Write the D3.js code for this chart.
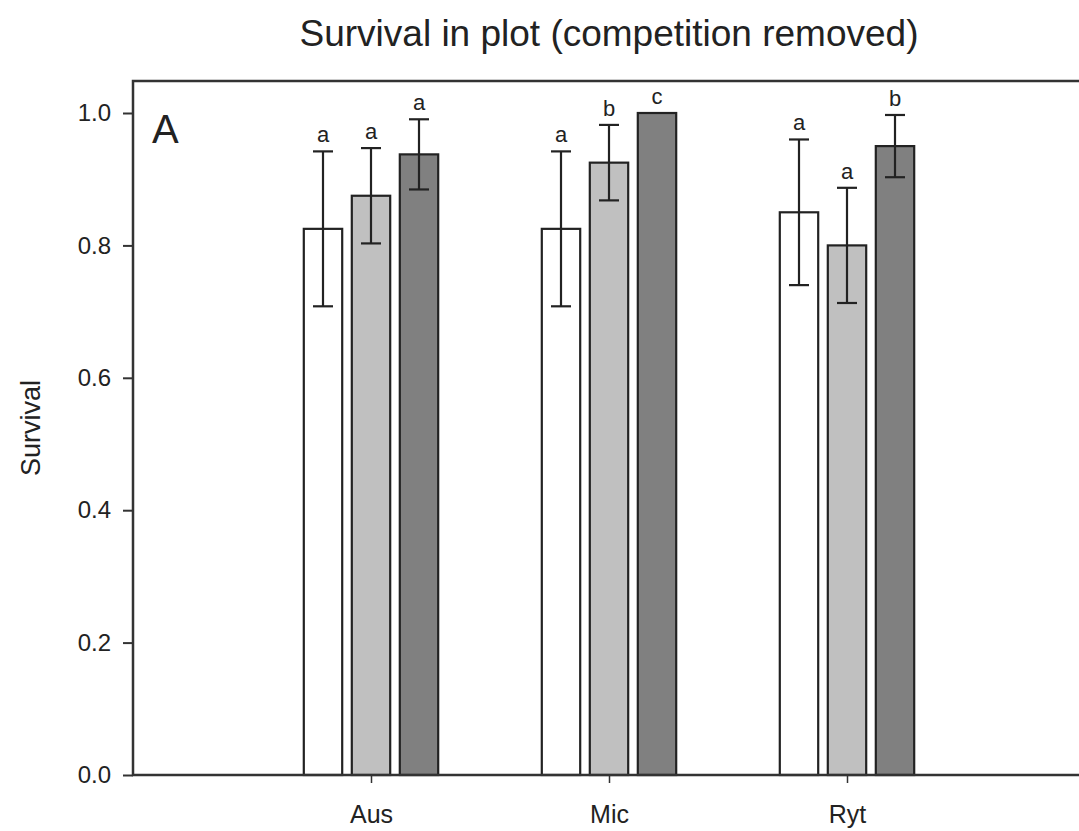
<!DOCTYPE html>
<html>
<head>
<meta charset="utf-8">
<script src="https://cdn.jsdelivr.net/npm/d3@7"></script>
<style>
  body { margin: 0; background: #fff; }
  text { font-family: "Liberation Sans", Arial, sans-serif; fill: #222; }
</style>
</head>
<body>
<div id="container"></div>
<script>
/* DATA */
const sites = ["Aus", "Mic", "Ryt"];
const treatments = ["t1", "t2", "t3"];
const means = [
  [0.825, 0.875, 0.9375],
  [0.825, 0.925, 1.0],
  [0.85, 0.80, 0.95]
];
const errors = [
  [0.117, 0.072, 0.053],
  [0.117, 0.057, 0],
  [0.11, 0.087, 0.047]
];
const letters = [
  ["a", "a", "a"],
  ["a", "b", "c"],
  ["a", "a", "b"]
];
const yTicks = [0, 0.2, 0.4, 0.6, 0.8, 1.0];
const fills = ["#ffffff", "#c0c0c0", "#808080"];

/* CONSTANTS */
const width = 1079;
const height = 831;
const margin = { top: 81, right: 0, bottom: 56, left: 133 };

const svg = d3.select("#container")
  .append("svg")
  .attr("width", width)
  .attr("height", height);

/* SCALES */
const xScale = d3.scalePoint()
  .domain(sites)
  .range([margin.left, 1085])
  .padding(1);

const subScale = d3.scaleBand()
  .domain(treatments)
  .range([-72, 72])
  .paddingInner(0.2)
  .paddingOuter(0.1);

const yScale = d3.scaleLinear()
  .domain([0, 1.0])
  .range([775, 113]);

// flatten rows for drawing
const rows = [];
sites.forEach((s, i) => {
  treatments.forEach((t, j) => {
    rows.push({ site: s, trt: t, j: j, mean: means[i][j], err: errors[i][j], letter: letters[i][j] });
  });
});

/* BARS */
svg.append("g")
  .selectAll("rect")
  .data(rows)
  .join("rect")
  .attr("x", d => xScale(d.site) + subScale(d.trt))
  .attr("y", d => yScale(d.mean))
  .attr("width", subScale.bandwidth())
  .attr("height", d => yScale(0) - yScale(d.mean))
  .attr("fill", d => fills[d.j])
  .attr("stroke", "#222")
  .attr("stroke-width", 2.2);

/* ERROR BARS */
const eb = svg.append("g")
  .selectAll("g")
  .data(rows.filter(d => d.err > 0))
  .join("g")
  .attr("stroke", "#222")
  .attr("stroke-width", 2.2);

const cx = d => xScale(d.site) + subScale(d.trt) + subScale.bandwidth() / 2;

eb.append("line")
  .attr("x1", cx).attr("x2", cx)
  .attr("y1", d => yScale(d.mean - d.err))
  .attr("y2", d => yScale(d.mean + d.err));
eb.append("line")
  .attr("x1", d => cx(d) - 10).attr("x2", d => cx(d) + 10)
  .attr("y1", d => yScale(d.mean + d.err))
  .attr("y2", d => yScale(d.mean + d.err));
eb.append("line")
  .attr("x1", d => cx(d) - 10).attr("x2", d => cx(d) + 10)
  .attr("y1", d => yScale(d.mean - d.err))
  .attr("y2", d => yScale(d.mean - d.err));

/* LETTERS */
svg.append("g")
  .selectAll("text")
  .data(rows)
  .join("text")
  .attr("x", cx)
  .attr("y", d => yScale(d.mean + d.err) - 9)
  .attr("text-anchor", "middle")
  .style("font-size", "22px")
  .text(d => d.letter);

/* AXES */
const yAxis = svg.append("g")
  .attr("transform", `translate(${margin.left},0)`)
  .call(d3.axisLeft(yScale).tickValues(yTicks).tickFormat(d3.format(".1f")).tickSize(10).tickPadding(12));
yAxis.select(".domain").remove();
yAxis.selectAll("line").attr("stroke", "#333").attr("stroke-width", 2);
yAxis.selectAll("text").style("font-size", "24px").attr("fill", "#222");

const xAxis = svg.append("g")
  .attr("transform", `translate(0,${yScale(0)})`)
  .call(d3.axisBottom(xScale).tickSize(8).tickPadding(22));
xAxis.select(".domain").remove();
xAxis.selectAll("line").attr("stroke", "#333").attr("stroke-width", 1.5);
xAxis.selectAll("text").style("font-size", "25px").attr("fill", "#222");

// frame: left, top, bottom
svg.append("path")
  .attr("d", `M${width},${margin.top}H${margin.left}V${yScale(0)}H${width}`)
  .attr("fill", "none")
  .attr("stroke", "#333")
  .attr("stroke-width", 2.5);

/* LABELS */
svg.append("text")
  .attr("x", (margin.left + 1085) / 2)
  .attr("y", 46)
  .attr("text-anchor", "middle")
  .style("font-size", "37px")
  .text("Survival in plot (competition removed)");

svg.append("text")
  .attr("transform", `translate(40,${(margin.top + yScale(0)) / 2}) rotate(-90)`)
  .attr("text-anchor", "middle")
  .style("font-size", "27px")
  .text("Survival");

svg.append("text")
  .attr("x", 152)
  .attr("y", 143)
  .style("font-size", "40px")
  .text("A");
</script>
</body>
</html>
